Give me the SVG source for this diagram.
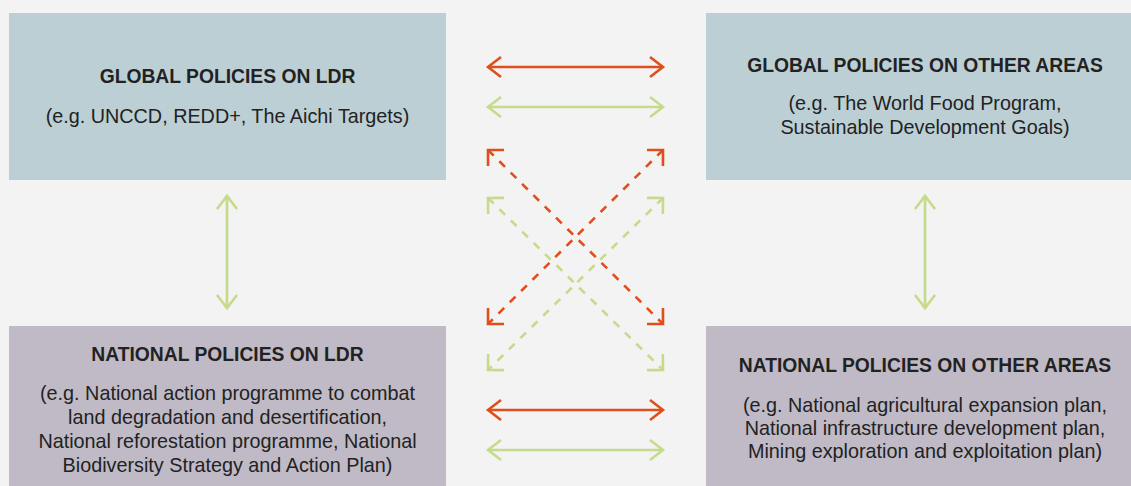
<svg xmlns="http://www.w3.org/2000/svg" width="1131" height="486" viewBox="0 0 1131 486">
<style>
.t{font-family:"Liberation Sans",Arial,sans-serif;font-size:19.3px;font-weight:bold;fill:#222;text-anchor:middle}
.s{font-family:"Liberation Sans",Arial,sans-serif;font-size:19.8px;fill:#222;text-anchor:middle}
.o{stroke:#e04e1b;stroke-width:2.6;fill:none}
.g{stroke:#c5db8b;stroke-width:2.6;fill:none}
.d{stroke-dasharray:8 8}
</style>
<defs>
<marker id="ho" markerUnits="userSpaceOnUse" orient="auto-start-reverse" viewBox="-16 -14 20 28" refX="0" refY="0" markerWidth="20" markerHeight="28"><path d="M-13,-10 L0,0 L-13,10" stroke="#e04e1b" stroke-width="2.6" fill="none"/></marker>
<marker id="hg" markerUnits="userSpaceOnUse" orient="auto-start-reverse" viewBox="-16 -14 20 28" refX="0" refY="0" markerWidth="20" markerHeight="28"><path d="M-13,-10 L0,0 L-13,10" stroke="#c5db8b" stroke-width="2.6" fill="none"/></marker>
<marker id="do" markerUnits="userSpaceOnUse" orient="auto-start-reverse" viewBox="-16 -14 20 28" refX="0" refY="0" markerWidth="20" markerHeight="28"><path d="M-11.3,-11.3 L0,0 L-11.3,11.3" stroke="#e04e1b" stroke-width="2.6" fill="none" stroke-linejoin="miter"/></marker>
<marker id="dg" markerUnits="userSpaceOnUse" orient="auto-start-reverse" viewBox="-16 -14 20 28" refX="0" refY="0" markerWidth="20" markerHeight="28"><path d="M-11.3,-11.3 L0,0 L-11.3,11.3" stroke="#c5db8b" stroke-width="2.6" fill="none" stroke-linejoin="miter"/></marker>
</defs>
<rect width="1131" height="486" fill="#f3f3f3"/>
<g id="global-ldr">
<rect x="9" y="13" width="437" height="167" fill="#bccfd5"/>
<text class="t" x="227.5" y="83">GLOBAL POLICIES ON LDR</text>
<text class="s" x="227.5" y="123">(e.g. UNCCD, REDD+, The Aichi Targets)</text>
</g>
<g id="global-other">
<rect x="706" y="13" width="425" height="167" fill="#bccfd5"/>
<text class="t" x="925" y="72">GLOBAL POLICIES ON OTHER AREAS</text>
<text class="s" x="925" y="110">(e.g. The World Food Program,</text>
<text class="s" x="925" y="134">Sustainable Development Goals)</text>
</g>
<g id="national-ldr">
<rect x="9" y="326" width="437" height="160" fill="#bfbac6"/>
<text class="t" x="227.5" y="361">NATIONAL POLICIES ON LDR</text>
<text class="s" x="227.5" y="400">(e.g. National action programme to combat</text>
<text class="s" x="227.5" y="424">land degradation and desertification,</text>
<text class="s" x="227.5" y="448">National reforestation programme, National</text>
<text class="s" x="227.5" y="472">Biodiversity Strategy and Action Plan)</text>
</g>
<g id="national-other">
<rect x="706" y="326" width="425" height="160" fill="#bfbac6"/>
<text class="t" x="925" y="372">NATIONAL POLICIES ON OTHER AREAS</text>
<text class="s" x="925" y="412">(e.g. National agricultural expansion plan,</text>
<text class="s" x="925" y="435">National infrastructure development plan,</text>
<text class="s" x="925" y="458">Mining exploration and exploitation plan)</text>
</g>
<g id="connectors">
<path class="o" d="M488,67 L663,67" marker-start="url(#ho)" marker-end="url(#ho)"/>
<path class="g" d="M488,107 L663,107" marker-start="url(#hg)" marker-end="url(#hg)"/>
<path class="o" d="M488,410 L663,410" marker-start="url(#ho)" marker-end="url(#ho)"/>
<path class="g" d="M488,450 L663,450" marker-start="url(#hg)" marker-end="url(#hg)"/>
<path class="g" d="M227,196 L227,308" marker-start="url(#hg)" marker-end="url(#hg)"/>
<path class="g" d="M925,196 L925,308" marker-start="url(#hg)" marker-end="url(#hg)"/>
<path class="o d" d="M488,150 L663,324" marker-start="url(#do)" marker-end="url(#do)"/>
<path class="o d" d="M663,150 L488,324" marker-start="url(#do)" marker-end="url(#do)"/>
<path class="g d" d="M488,198 L663,370" marker-start="url(#dg)" marker-end="url(#dg)"/>
<path class="g d" d="M663,198 L488,370" marker-start="url(#dg)" marker-end="url(#dg)"/>
</g>
</svg>
